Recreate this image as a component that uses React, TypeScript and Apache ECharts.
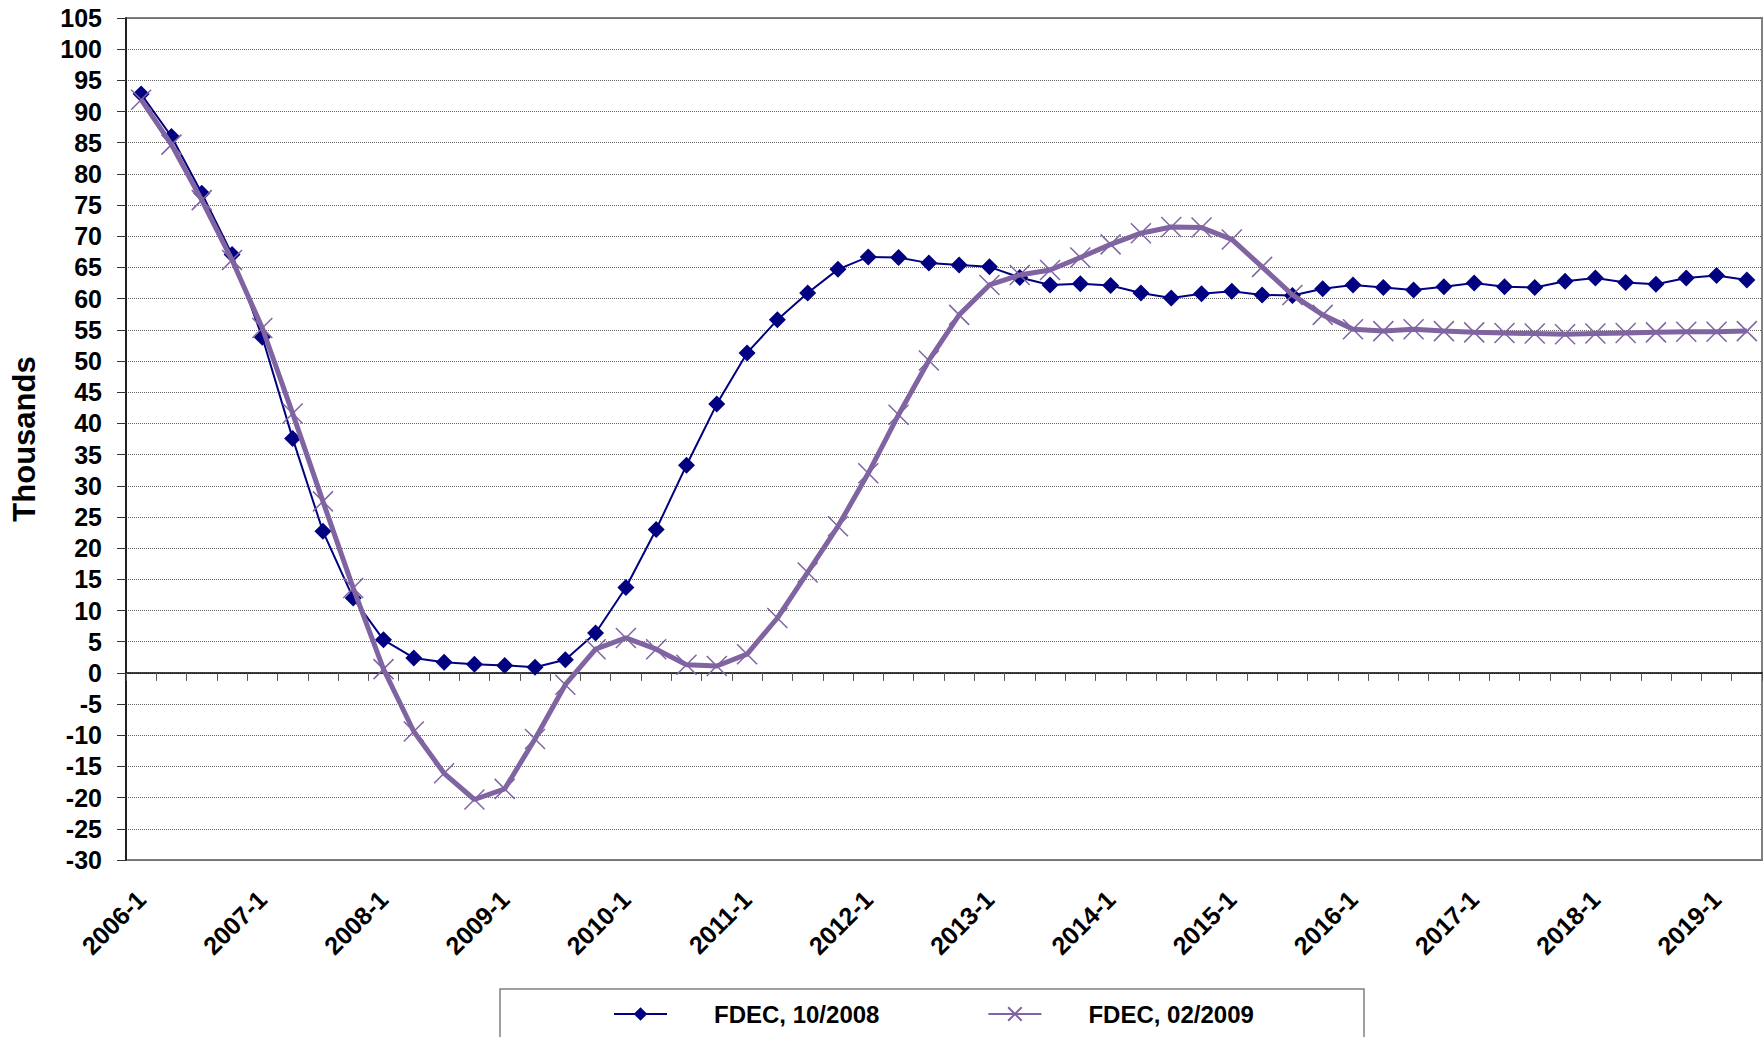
import React, { useEffect, useRef } from "react";
import * as echarts from "echarts";

const categories = [
  "2006-1", "2006-2", "2006-3", "2006-4",
  "2007-1", "2007-2", "2007-3", "2007-4",
  "2008-1", "2008-2", "2008-3", "2008-4",
  "2009-1", "2009-2", "2009-3", "2009-4",
  "2010-1", "2010-2", "2010-3", "2010-4",
  "2011-1", "2011-2", "2011-3", "2011-4",
  "2012-1", "2012-2", "2012-3", "2012-4",
  "2013-1", "2013-2", "2013-3", "2013-4",
  "2014-1", "2014-2", "2014-3", "2014-4",
  "2015-1", "2015-2", "2015-3", "2015-4",
  "2016-1", "2016-2", "2016-3", "2016-4",
  "2017-1", "2017-2", "2017-3", "2017-4",
  "2018-1", "2018-2", "2018-3", "2018-4",
  "2019-1", "2019-2",
];

const fdec2008 = [
  92.8, 86.0, 76.9, 67.1, 53.8, 37.6, 22.7, 12.0, 5.3, 2.4,
  1.7, 1.4, 1.2, 0.9, 2.1, 6.4, 13.7, 23.0, 33.3, 43.1,
  51.3, 56.6, 60.9, 64.7, 66.7, 66.6, 65.7, 65.4, 65.1, 63.4,
  62.2, 62.4, 62.1, 60.9, 60.1, 60.8, 61.2, 60.6, 60.5, 61.6,
  62.2, 61.8, 61.4, 61.9, 62.5, 61.9, 61.8, 62.8, 63.3, 62.6,
  62.3, 63.3, 63.7, 63.0,
];

const fdec2009 = [
  91.9, 84.7, 75.8, 66.2, 55.3, 41.6, 27.5, 13.6, 0.6, -9.4,
  -16.1, -20.3, -18.6, -10.6, -1.9, 3.8, 5.6, 3.8, 1.3, 1.1,
  3.0, 8.8, 16.1, 23.5, 32.0, 41.4, 50.1, 57.4, 62.2, 63.8,
  64.6, 66.6, 68.7, 70.5, 71.5, 71.4, 69.5, 65.1, 60.6, 57.4,
  55.1, 54.8, 55.1, 54.8, 54.6, 54.5, 54.4, 54.3, 54.4, 54.5,
  54.6, 54.7, 54.7, 54.8,
];

const seriesNames = ["FDEC, 10/2008", "FDEC, 02/2009"];
const yTicks = { min: -30, max: 105, step: 5 };

const FONT = "'Liberation Sans', Arial, sans-serif";
const NAVY = "#000080";
const PURPLE = "#8064A2";

export default function App() {
  const ref = useRef<HTMLDivElement>(null);

  useEffect(() => {
    if (!ref.current) return;
    const chart = echarts.init(ref.current, undefined, { renderer: "svg" });
    const option: any = {
      animation: false,
      backgroundColor: "#ffffff",
      grid: {
        left: 126,
        top: 18,
        width: 1636,
        height: 842,
        show: true,
        borderColor: "#808080",
        borderWidth: 2,
        backgroundColor: "transparent",
      },
      legend: {
        left: 613,
        top: 1002,
        padding: 0,
        itemGap: 108,
        itemWidth: 53,
        itemHeight: 17,
        textStyle: {
          fontFamily: FONT,
          fontWeight: "bold",
          fontSize: 24,
          color: "#000000",
          padding: [0, 0, 0, 42],
        },
        data: seriesNames,
      },
      graphic: [
        {
          type: "rect",
          shape: { x: 500, y: 989, width: 864, height: 80 },
          style: { fill: "none", stroke: "#808080", lineWidth: 1.5 },
          silent: true,
          z: -1,
        },
      ],
      xAxis: [
        {
          type: "category",
          data: categories,
          boundaryGap: true,
          position: "bottom",
          axisLine: { show: true, onZero: true, lineStyle: { color: "#000000", width: 1.5 } },
          axisTick: { show: true, interval: 0, length: 8, lineStyle: { color: "#555555", width: 1 } },
          axisLabel: { show: false },
          splitLine: { show: false },
        },
        {
          type: "category",
          data: categories,
          boundaryGap: true,
          position: "bottom",
          axisLine: { show: false, onZero: false },
          axisTick: { show: false },
          splitLine: { show: false },
          axisLabel: {
            show: true,
            interval: 3,
            rotate: 45,
            margin: 35,
            fontFamily: FONT,
            fontWeight: "bold",
            fontSize: 25,
            color: "#000000",
          },
        },
      ],
      yAxis: {
        type: "value",
        min: yTicks.min,
        max: yTicks.max,
        interval: yTicks.step,
        name: "Thousands",
        nameLocation: "middle",
        nameRotate: 90,
        nameGap: 86,
        nameTextStyle: {
          fontFamily: FONT,
          fontWeight: "bold",
          fontSize: 31,
          color: "#000000",
        },
        axisLine: { show: true, lineStyle: { color: "#000000", width: 1.5 } },
        axisTick: { show: true, length: 9, lineStyle: { color: "#333333" } },
        axisLabel: {
          margin: 24,
          fontFamily: FONT,
          fontWeight: "bold",
          fontSize: 25,
          color: "#000000",
        },
        splitLine: {
          show: true,
          lineStyle: { color: "#666666", width: 1, type: [1, 1] },
        },
      },
      series: [
        {
          name: seriesNames[0],
          type: "line",
          data: fdec2008,
          xAxisIndex: 0,
          symbol: "diamond",
          symbolSize: 17,
          lineStyle: { color: NAVY, width: 2 },
          itemStyle: { color: NAVY },
          z: 2,
        },
        {
          name: seriesNames[1],
          type: "line",
          data: fdec2009,
          xAxisIndex: 0,
          symbol: "path://M0,0L20,20M20,0L0,20",
          symbolSize: 20,
          lineStyle: { color: PURPLE, width: 5 },
          itemStyle: { color: PURPLE, borderColor: PURPLE, borderWidth: 1.5 },
          z: 3,
        },
      ],
    };
    chart.setOption(option);
    return () => chart.dispose();
  }, []);

  return (
    <div
      ref={ref}
      style={{ position: "absolute", left: 0, top: 0, width: 1764, height: 1037 }}
    />
  );
}
